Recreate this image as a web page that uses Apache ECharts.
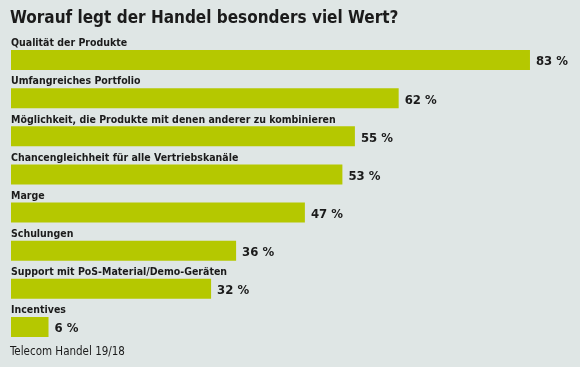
<!DOCTYPE html>
<html>
<head>
<meta charset="utf-8">
<script src="https://cdn.jsdelivr.net/npm/echarts@6/dist/echarts.min.js"></script>
<style>
html,body{margin:0;padding:0;background:#dfe6e5;}
#c{width:580px;height:367px;}
</style>
</head>
<body>
<div id="c"></div>
<script>
const title = 'Worauf legt der Handel besonders viel Wert?';
const source = 'Telecom Handel 19/18';
const categories = [
  'Qualität der Produkte',
  'Umfangreiches Portfolio',
  'Möglichkeit, die Produkte mit denen anderer zu kombinieren',
  'Chancengleichheit für alle Vertriebskanäle',
  'Marge',
  'Schulungen',
  'Support mit PoS-Material/Demo-Geräten',
  'Incentives'
];
const values = [83, 62, 55, 53, 47, 36, 32, 6];

const FONT = '"DejaVu Sans Condensed", "Liberation Sans Narrow", sans-serif';
const chart = echarts.init(document.getElementById('c'), null, {renderer: 'canvas'});
chart.setOption({
  backgroundColor: '#dfe6e5',
  animation: false,
  title: {
    text: title,
    left: 5, top: 5,
    textStyle: {fontFamily: FONT, fontWeight: 'bold', fontSize: 17, color: '#1b1b1b'}
  },
  graphic: [{
    type: 'text', left: 10, top: 346,
    style: {text: source, fontFamily: FONT, fontSize: 11.5, fill: '#1b1b1b'}
  }],
  grid: {left: 11, right: 0, top: 41, bottom: 21, containLabel: false},
  xAxis: {type: 'value', min: 0, max: 91, show: false},
  yAxis: {
    type: 'category', data: categories, inverse: true,
    axisLine: {show: false}, axisTick: {show: false},
    axisLabel: {
      inside: true, margin: 0, align: 'left', verticalAlign: 'bottom',
      padding: [0, 0, 11, 0],
      fontFamily: FONT, fontWeight: 'bold', fontSize: 10.5, color: '#1b1b1b'
    }
  },
  series: [{
    type: 'bar', data: values, barWidth: 20,
    itemStyle: {color: '#b5c800'},
    label: {
      show: true, position: 'right', distance: 6, offset: [0, 2],
      formatter: p => p.value + ' %',
      fontFamily: FONT, fontWeight: 'bold', fontSize: 13, color: '#1b1b1b'
    }
  }]
});
</script>
</body>
</html>
